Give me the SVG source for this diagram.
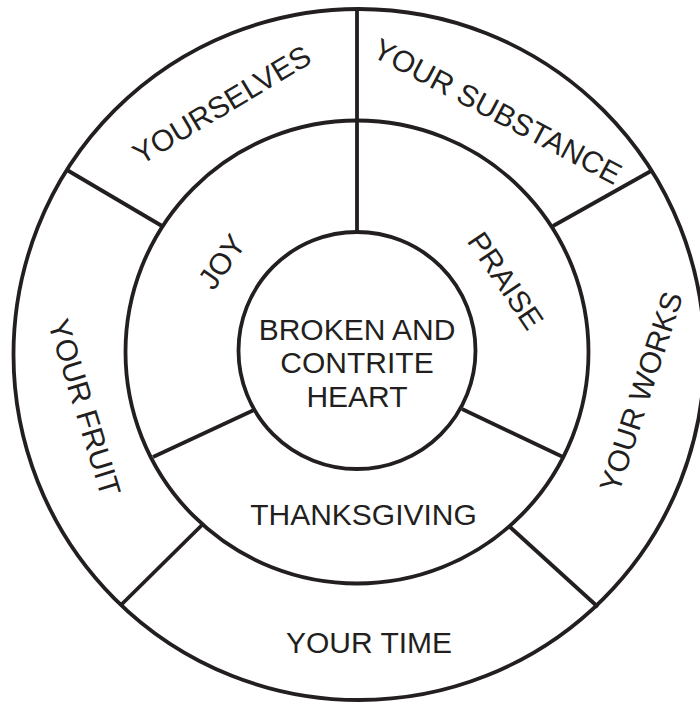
<svg xmlns="http://www.w3.org/2000/svg" width="700" height="702" viewBox="0 0 700 702">
  <style>
    .ring { fill: none; stroke: #231f20; stroke-width: 3.8; }
    .div { stroke: #231f20; stroke-width: 3.8; stroke-linecap: butt; }
    .lbl { font-family: "Liberation Sans", Arial, sans-serif; font-size: 30px; fill: #231f20; text-anchor: middle; }
  </style>
  <rect width="700" height="702" fill="#ffffff"/>
  <g id="rings">
    <circle id="outer-ring" class="ring" cx="359" cy="354.5" r="345.5"/>
    <circle id="middle-ring" class="ring" cx="357" cy="352" r="231.5"/>
  </g>
  <g id="connectors">
    <line class="div" x1="357" y1="10" x2="357" y2="232"/>
    <line class="div" x1="67" y1="170" x2="162" y2="226"/>
    <line class="div" x1="651" y1="171" x2="553" y2="226"/>
    <line class="div" x1="254" y1="410" x2="153" y2="457"/>
    <line class="div" x1="462" y1="409" x2="563" y2="457"/>
    <line class="div" x1="202" y1="525" x2="121" y2="605"/>
    <line class="div" x1="510" y1="527" x2="598" y2="607"/>
  </g>
  <g id="center">
    <circle class="ring" cx="357" cy="350.5" r="118.5" fill="#ffffff"/>
    <text class="lbl" x="357" y="339.5">BROKEN AND</text>
    <text class="lbl" x="357" y="372.5">CONTRITE</text>
    <text class="lbl" x="357" y="406.5">HEART</text>
  </g>
  <g id="joy">
    <text class="lbl" transform="translate(221.5,261.5) rotate(-55)" x="0" y="10.8">JOY</text>
  </g>
  <g id="praise">
    <text class="lbl" transform="translate(506,280.5) rotate(56)" x="0" y="10.8">PRAISE</text>
  </g>
  <g id="thanksgiving">
    <text class="lbl" x="363.5" y="525">THANKSGIVING</text>
  </g>
  <g id="yourselves">
    <text class="lbl" transform="translate(221.5,104.5) rotate(-31)" x="0" y="10.8">YOURSELVES</text>
  </g>
  <g id="your-substance">
    <text class="lbl" transform="translate(497.7,111) rotate(28)" x="0" y="10.8">YOUR SUBSTANCE</text>
  </g>
  <g id="your-works">
    <text class="lbl" transform="translate(640.6,391.7) rotate(-72)" x="0" y="10.8">YOUR WORKS</text>
  </g>
  <g id="your-fruit">
    <text class="lbl" transform="translate(85,407.5) rotate(73)" x="0" y="10.8">YOUR FRUIT</text>
  </g>
  <g id="your-time">
    <text class="lbl" x="369" y="652.5">YOUR TIME</text>
  </g>
</svg>
